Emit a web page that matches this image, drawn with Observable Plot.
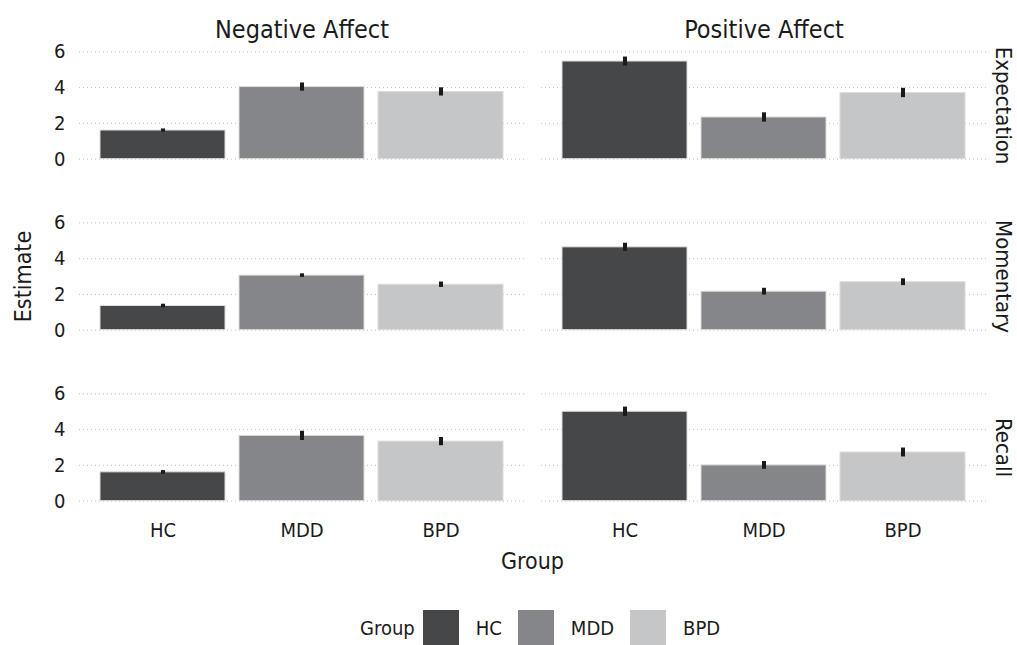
<!DOCTYPE html>
<html>
<head>
<meta charset="utf-8">
<script src="https://cdn.jsdelivr.net/npm/d3@7"></script>
<script src="https://cdn.jsdelivr.net/npm/@observablehq/plot@0.6"></script>
<style>
  body { margin: 0; background: #fff; }
  #wrap { width: 1017px; font-family: "Liberation Sans Narrow", "Arial Narrow", "DejaVu Sans Condensed", sans-serif; color: #1a1a1a; }
  #legend { height: 55px; display: flex; align-items: center; padding-left: 360px; box-sizing: border-box; font-size: 20px; padding-top: 21px; }
  #legend .sw { width: 36px; height: 36px; }
  #legend .title { margin-right: 8px; }
  #legend .lab { margin-left: 17px; margin-right: 16px; }
</style>
</head>
<body>
<div id="wrap">
  <div id="chart"></div>
  <div id="legend"></div>
</div>
<script>
const groups = ["HC", "MDD", "BPD"];
const affects = ["Negative Affect", "Positive Affect"];
const measures = ["Expectation", "Momentary", "Recall"];
const colors = ["#464749", "#85868a", "#c5c6c8"];
const yTicks = [0, 2, 4, 6];

// Means, in the order HC, MDD, BPD
const negExpectation = [1.60, 4.03, 3.76];
const negMomentary   = [1.35, 3.05, 2.54];
const negRecall      = [1.61, 3.65, 3.33];
const posExpectation = [5.46, 2.33, 3.70];
const posMomentary   = [4.63, 2.15, 2.68];
const posRecall      = [5.00, 2.00, 2.72];

// Standard errors, in the order HC, MDD, BPD
const negExpectationSE = [0.09, 0.23, 0.23];
const negMomentarySE   = [0.10, 0.10, 0.15];
const negRecallSE      = [0.10, 0.26, 0.23];
const posExpectationSE = [0.25, 0.26, 0.26];
const posMomentarySE   = [0.23, 0.19, 0.19];
const posRecallSE      = [0.26, 0.22, 0.25];

const table = [
  ["Negative Affect", "Expectation", negExpectation, negExpectationSE],
  ["Negative Affect", "Momentary", negMomentary, negMomentarySE],
  ["Negative Affect", "Recall", negRecall, negRecallSE],
  ["Positive Affect", "Expectation", posExpectation, posExpectationSE],
  ["Positive Affect", "Momentary", posMomentary, posMomentarySE],
  ["Positive Affect", "Recall", posRecall, posRecallSE]
];
const rows = table.flatMap(([affect, measure, means, ses]) =>
  groups.map((group, i) => ({affect, measure, group, mean: means[i], se: ses[i]})));

const font = "'Liberation Sans Narrow', 'Arial Narrow', 'DejaVu Sans Condensed', sans-serif";

const chart = Plot.plot({
  width: 1017,
  height: 590,
  marginTop: 45.6,
  marginBottom: 82.3,
  marginLeft: 79,
  marginRight: 31,
  style: {fontFamily: font, fontSize: "19px", color: "#1a1a1a", background: "#fff"},
  fx: {domain: affects, paddingInner: 0.037, paddingOuter: 0, label: null},
  fy: {domain: measures, paddingInner: 0.308, paddingOuter: 0, label: null, axis: null},
  x: {domain: groups, paddingInner: 0.1, paddingOuter: 0.15, label: null},
  y: {domain: [-0.3, 6.3], label: null},
  color: {domain: groups, range: colors},
  marks: [
    Plot.gridY(yTicks, {stroke: "#bdbdbd", strokeOpacity: 1, strokeDasharray: "1,3", strokeWidth: 1}),
    Plot.barY(rows, {fx: "affect", fy: "measure", x: "group", y: "mean", fill: "group", stroke: "#dcdcdc", strokeWidth: 1}),
    Plot.ruleX(rows, {fx: "affect", fy: "measure", x: "group", y1: d => d.mean - d.se, y2: d => d.mean + d.se, stroke: "#1a1a1a", strokeWidth: 4}),
    Plot.axisY(yTicks, {tickSize: 0, tickPadding: 14, fontSize: 20, label: null}),
    Plot.axisX({tickSize: 0, tickPadding: 16, fontSize: 20, label: null}),
    Plot.axisFx({anchor: "top", tickSize: 0, tickPadding: 9, fontSize: 25, label: null}),
    Plot.text(measures, {fy: d => d, fx: () => "Positive Affect", text: d => d, frameAnchor: "right", textAnchor: "middle", lineAnchor: "middle", dx: 17, rotate: 90, fontSize: 22, fill: "#1a1a1a"}),
    Plot.text(["Estimate"], {fx: () => "Negative Affect", fy: () => "Momentary", text: d => d, frameAnchor: "left", textAnchor: "middle", lineAnchor: "middle", dx: -56, rotate: -90, fontSize: 23, fill: "#1a1a1a"}),
    Plot.text(["Group"], {fx: () => "Negative Affect", fy: () => "Recall", text: d => d, frameAnchor: "bottom-right", textAnchor: "middle", lineAnchor: "middle", dx: 8, dy: 55, fontSize: 23, fill: "#1a1a1a"})
  ]
});
document.getElementById("chart").appendChild(chart);

const legend = d3.select("#legend");
legend.append("span").attr("class", "title").text("Group");
groups.forEach((g, i) => {
  legend.append("div").attr("class", "sw").style("background", colors[i]);
  legend.append("span").attr("class", "lab").text(g);
});
</script>
</body>
</html>
